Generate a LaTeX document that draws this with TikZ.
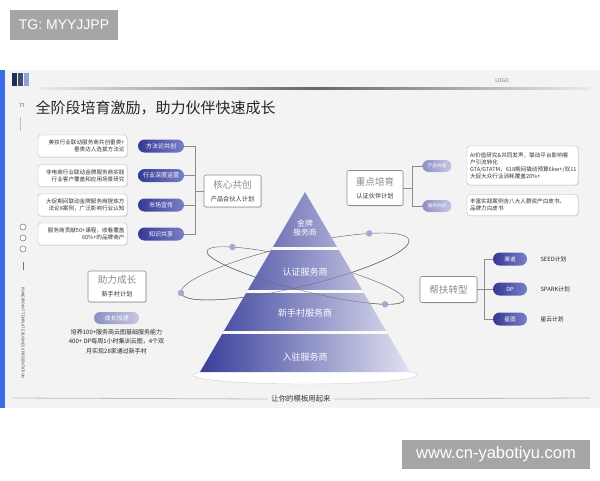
\documentclass[tikz,border=0pt]{standalone}
\usepackage{fontspec}
\setmainfont{Noto Sans CJK SC}
\newfontfamily\wmfont{Liberation Sans}
\usepackage{tikz}
\usetikzlibrary{shapes.misc,shadows,calc}
\definecolor{navydark}{HTML}{343A94}
\definecolor{navylight}{HTML}{7A7FC8}
\definecolor{lavdark}{HTML}{8E90C2}
\definecolor{lavlight}{HTML}{C6C7E2}
\definecolor{slidebg}{HTML}{F3F3F4}
\definecolor{titlegray}{HTML}{8A8A8A}
\definecolor{wmgray}{HTML}{A6A6A6}
\definecolor{barblue}{HTML}{3A6CE8}
\definecolor{pyrdark}{HTML}{353A98}
\definecolor{pyrlight}{HTML}{E4E5F3}
\definecolor{dotcolor}{HTML}{A7A9D2}
\definecolor{headnavy}{HTML}{1F2D5E}
\definecolor{headlight}{HTML}{8EA4D6}
\tikzset{infobox/.style={draw=black!28,fill=white,rounded corners=3pt,inner sep=1pt,font=\fontsize{5.6}{7}\selectfont,text=black!80,drop shadow={opacity=.18,shadow xshift=.8pt,shadow yshift=-.8pt}},pill/.style={rounded rectangle,minimum height=13pt,inner sep=1pt,text=white,font=\fontsize{6}{7}\selectfont,left color=navydark,right color=navylight},softpill/.style={pill,left color=lavdark,right color=lavlight},headbox/.style={draw=black!45,fill=white,rounded corners=2pt,line width=.6pt,align=center,inner sep=1pt,drop shadow={opacity=.2,shadow xshift=.8pt,shadow yshift=-.8pt}},bracket/.style={draw=black!45,line width=.5pt},orbit/.style={draw=black!60,line width=.45pt},orbitdot/.style={circle,fill=dotcolor,inner sep=0pt,minimum size=6.5pt},tierlabel/.style={text=white,font=\fontsize{9}{11}\selectfont,align=center},decoring/.style={circle,draw=black!55,fill=white,line width=.5pt,inner sep=0pt,minimum size=6pt},wmbox/.style={fill=wmgray,text=white,inner sep=0pt}}
\newcommand{\headtitle}[1]{{\fontsize{9.6}{11}\selectfont\textcolor{titlegray}{#1}}}
\newcommand{\headsub}[1]{{\fontsize{6.2}{7.5}\selectfont\textcolor{black!80}{#1}}}

\begin{document}
\begin{tikzpicture}[x=1pt,y=-1pt]
 \useasboundingbox (0,0) rectangle (600,480);
 \fill[white] (0,0) rectangle (600,480);
 % slide
 \fill[slidebg] (0,70) rectangle (600,408);
 \fill[barblue] (0,70) rectangle (4.5,408);
 \fill[headnavy] (12,73) rectangle (17,86);
 \fill[headnavy!85] (18,73) rectangle (23,86);
 \fill[headlight] (24,73) rectangle (28.5,86);
 \node[font=\fontsize{5}{6}\selectfont,text=black!55] (logo) at (502,81) {LOGO};
 \shade[left color=black!8,right color=black!8,middle color=black!60] (40,87.4) rectangle (590,89);
 \node[font=\fontsize{5}{6}\selectfont,text=black!70] (pagenum) at (22,106) {77};
 \node[anchor=west,font=\fontsize{15}{17}\selectfont,text=black!85] (title) at (32,108) {全阶段培育激励，助力伙伴快速成长};
 \draw[black!25,line width=.5pt] (20,117) -- (20,131);
 \foreach \yy in {227,238,249} \node[decoring] at (23,\yy) {};
 \draw[black!55,line width=.6pt] (23,262) -- (23,270);
 \node[rotate=-90,font=\fontsize{3.8}{4.5}\selectfont,text=black!75] (sidetext) at (23,333) {POWERPOINT TEMPLATE BUSINESS PRESENTATION};

 % left: core
 \node[headbox,minimum width=57pt,minimum height=32pt] (core) at (232.5,191) {\headtitle{核心共创}\\[1pt]\headsub{产品合伙人计划}};
 \coordinate (spineL) at (195,191);
 \foreach \i/\yy/\ptext/\btext in {1/146/方法论共创/{美妆行业联动服务商共创垂类+\\垂类达人选拔方法论},2/175.5/行业深度运营/{非电商行业联动金牌服务商实践\\行业客户覆盖和应用场景研究},3/205/市场宣传/{大促期间联动金牌服务商提炼方\\法论8案例，广泛影响行业认知},4/234/知识共享/{服务商贡献50+课程，收看覆盖\\60\%+的品牌商户}} {
   \node[infobox,minimum width=89pt,minimum height=22pt,text width=84pt,align=right] (lb\i) at (82.5,\yy) {\btext};
   \node[pill,minimum width=48pt] (lp\i) at (161,\yy) {\ptext};
   \draw[bracket] (lp\i.east) -| (spineL);
 }
 \draw[bracket] (spineL) -- (core.west);

 % right: focus
 \node[headbox,minimum width=56pt,minimum height=35pt] (focus) at (375,188) {\headtitle{重点培育}\\[1pt]\headsub{认证伙伴计划}};
 \coordinate (spineR) at (412,188);
 \node[softpill,minimum width=31pt,minimum height=12pt,font=\fontsize{4.6}{5.5}\selectfont] (rp1) at (437,166) {产品共建};
 \node[softpill,minimum width=31pt,minimum height=12pt,font=\fontsize{4.6}{5.5}\selectfont] (rp2) at (437,206) {案例共创};
 \foreach \i in {1,2} \draw[bracket] (rp\i.west) -| (spineR);
 \draw[bracket] (spineR) -- (focus.east);
 \node[infobox,minimum width=111pt,minimum height=39pt,text width=105pt,align=left] (rb1) at (522.5,165.5) {AI价值研究\&共同发声，联动平台影响客\\户引流转化\\GTA/GTATM，618期间撬动预算6kw+/双11\\大促大众行业消耗覆盖20\%+};
 \node[infobox,minimum width=111pt,minimum height=21pt,text width=105pt,align=left] (rb2) at (522.5,205) {丰富实践案例含八大人群资产白皮书、\\品牌力白皮书};

 % left middle: grow
 \node[headbox,minimum width=58pt,minimum height=31pt] (grow) at (117,286.5) {\headtitle{助力成长}\\[1pt]\headsub{新手村计划}};
 \node[softpill,minimum width=47pt,minimum height=12pt] (gp) at (116.5,318) {成长加速};
 \node[font=\fontsize{6}{9.6}\selectfont,align=center,text=black!85,anchor=north,inner sep=0pt] (gtext) at (116.5,329) {培养100+服务商云图基础服务能力\\400+ DP每周1小时集训云图，4个双\\月实现28家通过新手村};

 % right middle: assist
 \node[headbox,minimum width=57pt,minimum height=26pt] (assist) at (448.5,289.5) {\headtitle{帮扶转型}};
 \coordinate (spineM) at (484,289.5);
 \foreach \i/\yy/\ptext/\ltext in {1/259/渠道/SEED计划,2/289/DP/SPARK计划,3/319/星图/星云计划} {
   \node[pill,minimum width=36pt,minimum height=13pt,font=\fontsize{5.6}{6.5}\selectfont] (mp\i) at (510,\yy) {\ptext};
   \node[anchor=west,font=\fontsize{5.8}{7}\selectfont,text=black!85] (ml\i) at (537,\yy) {\ltext};
   \draw[bracket] (mp\i.west) -| (spineM);
 }
 \draw[bracket] (spineM) -- (assist.east);

 % pyramid with orbits (back halves first, front halves over it)
 \coordinate (apex) at (305,192);
 \coordinate (bl) at (200,372);
 \coordinate (br) at (410,372);
 \coordinate (oa) at (305.5,275.5);
 \coordinate (ob) at (295,266.5);
 \draw[draw=black!18,fill=white] (305,375) ellipse[x radius=112,y radius=9];
 \draw[orbit,rotate around={-14:(oa)}] (oa) ellipse[x radius=101.5,y radius=15.5];
 \draw[orbit,rotate around={13.1:(ob)}] (ob) ellipse[x radius=117,y radius=21];
 \begin{scope}
   \clip (apex) -- (bl) -- (br) -- cycle;
   \shade[left color=pyrdark,right color=pyrlight] (195,190) rectangle (415,375);
   \foreach \yy in {248.5,291.5,332.5} \draw[white!85!pyrlight,line width=2.6pt] (190,\yy) -- (420,\yy);
 \end{scope}
 \draw[orbit,draw opacity=.75,rotate around={-14:(oa)}] (oa) ++(0:101.5 and 15.5) arc[start angle=0,end angle=180,x radius=101.5,y radius=15.5];
 \draw[orbit,draw opacity=.75,rotate around={13.1:(ob)}] (ob) ++(0:117 and 21) arc[start angle=0,end angle=180,x radius=117,y radius=21];
 \path[rotate around={-14:(oa)}] (oa) ++(220:101.5 and 15.5) node[orbitdot] (dot1) {} (oa) ++(34:101.5 and 15.5) node[orbitdot] (dot2) {};
 \path[rotate around={13.1:(ob)}] (ob) ++(180:117 and 21) node[orbitdot] (dot3) {} (ob) ++(313:117 and 21) node[orbitdot] (dot4) {};
 \node[tierlabel,font=\fontsize{7.8}{9.5}\selectfont] (tier1) at (305,228) {金牌\\服务商};
 \node[tierlabel] (tier2) at (305,272) {认证服务商};
 \node[tierlabel] (tier3) at (305,313) {新手村服务商};
 \node[tierlabel] (tier4) at (305,357) {入驻服务商};

 % footer
 \node[font=\fontsize{7.4}{9}\selectfont,text=black!80] (foot) at (301,399) {让你的模板用起来};
 \draw[black!25,line width=.8pt] (12,398) -- (foot.west);
 \draw[black!25,line width=.8pt] (foot.east) -- (590,398);

 % watermarks
 \node[wmbox,minimum width=108pt,minimum height=30pt,font=\wmfont\fontsize{14}{16}\selectfont] (tg) at (64,25) {TG: MYYJJPP};
 \node[wmbox,minimum width=188pt,minimum height=29pt,font=\wmfont\fontsize{16.5}{18}\selectfont] (site) at (496,454.5) {www.cn-yabotiyu.com};
\end{tikzpicture}
\end{document}
